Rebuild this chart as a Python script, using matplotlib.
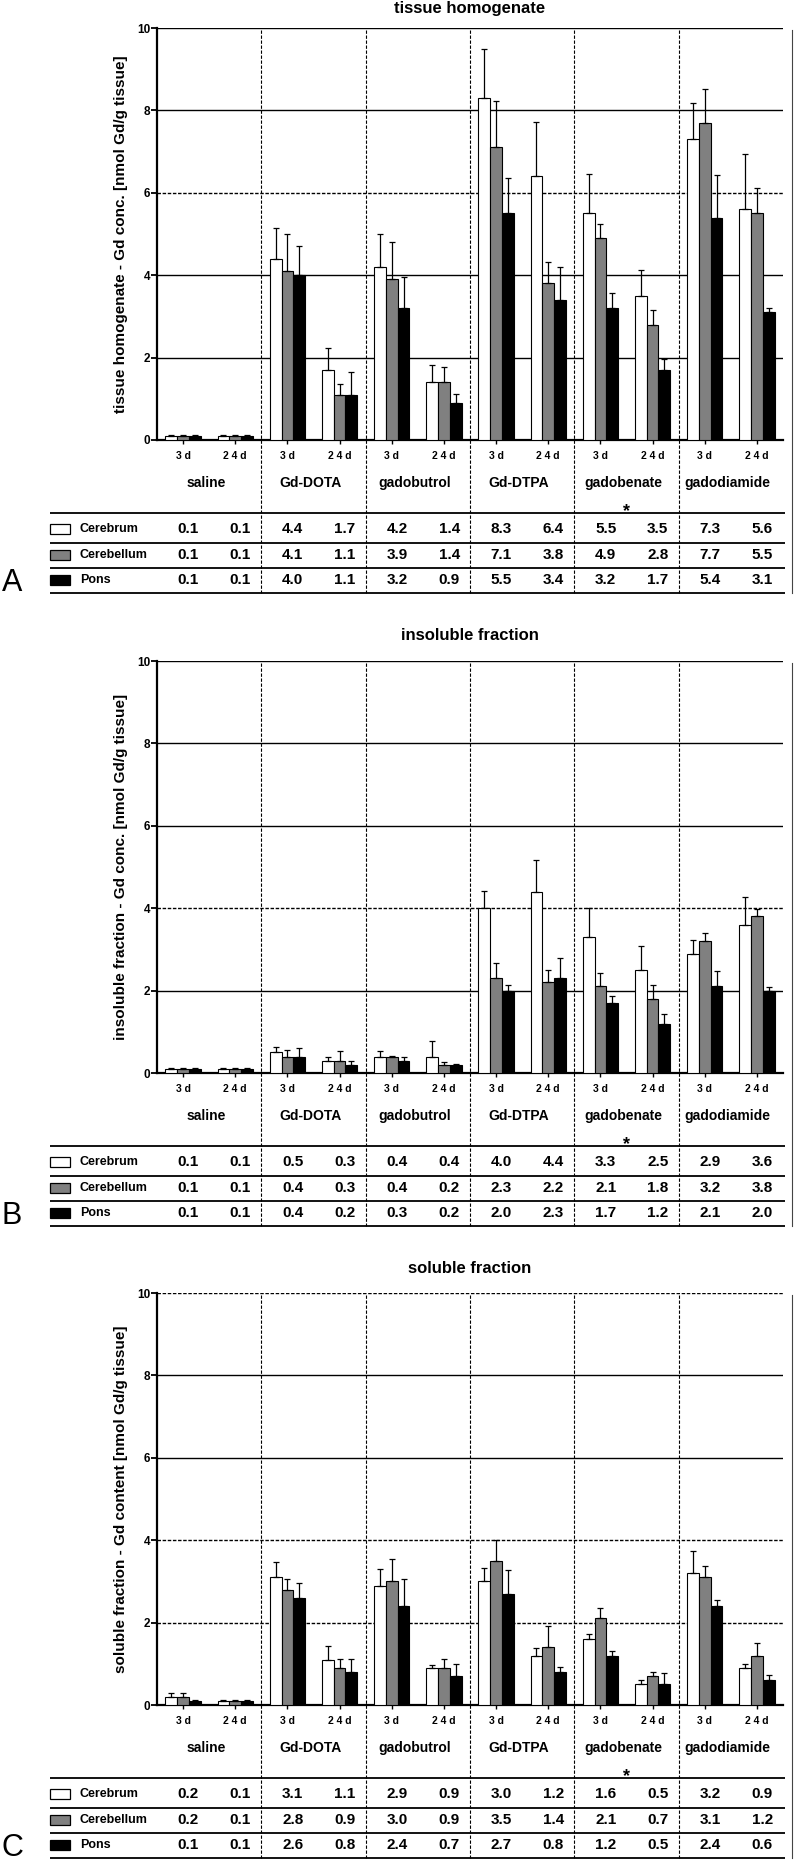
import numpy as np
import matplotlib
matplotlib.use('Agg')
from matplotlib import pyplot as plt
import matplotlib.transforms as mtransforms
from matplotlib.patches import Rectangle

plt.rcParams['font.family'] = ['Liberation Sans', 'DejaVu Sans']
plt.rcParams['font.weight'] = 'bold'

# ---- data ----
groups = ['saline', 'Gd-DOTA', 'gadobutrol', 'Gd-DTPA', 'gadobenate', 'gadodiamide']
times = ['3 d', '2 4 d']
regions = ['Cerebrum', 'Cerebellum', 'Pons']
region_colors = ['white', '#808080', 'black']

# each list: saline 3d, saline 24d, Gd-DOTA 3d, Gd-DOTA 24d, ...
homog_cerebrum = [0.1, 0.1, 4.4, 1.7, 4.2, 1.4, 8.3, 6.4, 5.5, 3.5, 7.3, 5.6]
homog_cerebellum = [0.1, 0.1, 4.1, 1.1, 3.9, 1.4, 7.1, 3.8, 4.9, 2.8, 7.7, 5.5]
homog_pons = [0.1, 0.1, 4.0, 1.1, 3.2, 0.9, 5.5, 3.4, 3.2, 1.7, 5.4, 3.1]
homog_cerebrum_sd = [0.02, 0.01, 0.75, 0.53, 0.8, 0.42, 1.18, 1.31, 0.95, 0.62, 0.88, 1.33]
homog_cerebellum_sd = [0.01, 0.01, 0.9, 0.26, 0.9, 0.38, 1.14, 0.53, 0.34, 0.35, 0.82, 0.62]
homog_pons_sd = [0.03, 0.01, 0.7, 0.55, 0.75, 0.22, 0.85, 0.79, 0.36, 0.27, 1.04, 0.11]

insol_cerebrum = [0.1, 0.1, 0.5, 0.3, 0.4, 0.4, 4.0, 4.4, 3.3, 2.5, 2.9, 3.6]
insol_cerebellum = [0.1, 0.1, 0.4, 0.3, 0.4, 0.2, 2.3, 2.2, 2.1, 1.8, 3.2, 3.8]
insol_pons = [0.1, 0.1, 0.4, 0.2, 0.3, 0.2, 2.0, 2.3, 1.7, 1.2, 2.1, 2.0]
insol_cerebrum_sd = [0.01, 0.01, 0.14, 0.1, 0.14, 0.38, 0.41, 0.77, 0.71, 0.58, 0.34, 0.66]
insol_cerebellum_sd = [0.01, 0.01, 0.15, 0.24, 0.02, 0.07, 0.38, 0.3, 0.32, 0.34, 0.19, 0.17]
insol_pons_sd = [0.01, 0.01, 0.21, 0.08, 0.1, 0.01, 0.14, 0.49, 0.17, 0.23, 0.38, 0.08]

sol_cerebrum = [0.2, 0.1, 3.1, 1.1, 2.9, 0.9, 3.0, 1.2, 1.6, 0.5, 3.2, 0.9]
sol_cerebellum = [0.2, 0.1, 2.8, 0.9, 3.0, 0.9, 3.5, 1.4, 2.1, 0.7, 3.1, 1.2]
sol_pons = [0.1, 0.1, 2.6, 0.8, 2.4, 0.7, 2.7, 0.8, 1.2, 0.5, 2.4, 0.6]
sol_cerebrum_sd = [0.08, 0.01, 0.38, 0.34, 0.4, 0.06, 0.32, 0.18, 0.13, 0.11, 0.54, 0.09]
sol_cerebellum_sd = [0.09, 0.01, 0.25, 0.21, 0.55, 0.22, 0.5, 0.52, 0.26, 0.1, 0.27, 0.31]
sol_pons_sd = [0.03, 0.01, 0.36, 0.31, 0.67, 0.29, 0.57, 0.13, 0.1, 0.28, 0.14, 0.12]

titles = ['tissue homogenate', 'insoluble fraction', 'soluble fraction']
ylabels = ['tissue homogenate - Gd conc. [nmol Gd/g tissue]',
           'insoluble fraction - Gd conc. [nmol Gd/g tissue]',
           'soluble fraction - Gd content [nmol Gd/g tissue]']
letters = ['A', 'B', 'C']
marked_group = 'gadobenate'

# ---- layout (pixels) ----
W, H = 800, 1860
AX_L, AX_R, AX_TOP, AX_BOT = 157, 783, 28, 440
PANEL_OFF = [0, 633, 1265]
TITLE_Y = [9, 636, 1268]
DASH = (0, (2.5, 1.2))
GRID_LS = [['-', '-', DASH, '-', '-'],
           ['-', DASH, '-', '-', '-'],
           [DASH, DASH, '-', '-', DASH]]

fig = plt.figure(figsize=(W / 100, H / 100), dpi=100)
ngroup = len(groups)
px_per_unit = (AX_R - AX_L) / ngroup
centers = np.array([g + c for g in range(ngroup) for c in (0.25, 0.75)])
bw = 0.113


def draw_panel(k, means, sds):
    off = PANEL_OFF[k]
    hpx = AX_BOT - AX_TOP
    ax = fig.add_axes([AX_L / W, 1 - (AX_BOT + off) / H, (AX_R - AX_L) / W, hpx / H])
    ax.patch.set_alpha(0)
    trans = mtransforms.blended_transform_factory(ax.transData, ax.transAxes)

    def ry(d):
        return -d / hpx

    def dx(px):
        return (px - AX_L) / px_per_unit

    for yv, ls in zip([2, 4, 6, 8, 10], GRID_LS[k]):
        ax.axhline(yv, color='black', lw=1.0, ls=ls, zorder=1)

    for i in range(3):
        xs = centers + (i - 1) * bw
        ax.bar(xs, means[i], bw, color=region_colors[i], edgecolor='black', lw=0.8, zorder=3)
        ax.errorbar(xs, means[i], yerr=[np.zeros(len(sds[i])), sds[i]], fmt='none',
                    ecolor='black', elinewidth=0.9, capsize=2.3, capthick=0.9, zorder=4)

    ax.set_xlim(0, ngroup)
    ax.set_ylim(0, 10)
    ax.spines['top'].set_visible(False)
    ax.spines['right'].set_visible(False)
    ax.spines['left'].set_linewidth(1.6)
    ax.spines['bottom'].set_linewidth(1.6)
    ax.set_yticks([0, 2, 4, 6, 8, 10])
    ax.set_yticklabels(['0', '2', '4', '6', '8', '10'], fontsize=8.5, fontweight='bold')
    ax.tick_params(axis='y', direction='out', length=4, width=1.3, pad=1)
    ax.set_xticks(centers)
    ax.set_xticklabels(times * ngroup, fontsize=7.5, fontweight='bold')
    ax.tick_params(axis='x', direction='out', length=3, width=1.0, pad=5)

    ax.set_ylabel(ylabels[k], fontsize=11, fontweight='bold')
    ax.yaxis.set_label_coords((121 - AX_L) / (AX_R - AX_L), 0.5)
    ax.yaxis.label.set_va('center')

    for g, name in enumerate(groups):
        ax.text(g + 0.47, ry(43), name, transform=trans, ha='center', va='center',
                fontsize=10, clip_on=False)
        if name == marked_group:
            ax.text(g + 0.5, ry(72), '*', transform=trans, ha='center', va='center',
                    fontsize=13, clip_on=False)

    # table
    x0, x1 = dx(50), dx(785)
    for d in [73, 103, 128, 153]:
        ax.plot([x0, x1], [ry(d), ry(d)], transform=trans, color='black', lw=1.3,
                clip_on=False, solid_capstyle='butt')
    for g in range(1, ngroup):
        ax.plot([g, g], [(hpx - 2) / hpx, ry(153)], transform=trans, color='black',
                lw=0.8, ls=(0, (3, 1.5)), clip_on=False)
    ax.plot([dx(792), dx(792)], [(hpx - 2) / hpx, ry(153)], transform=trans,
            color='#444444', lw=0.8, clip_on=False)

    for i, d in enumerate([89, 115, 140]):
        ax.add_patch(Rectangle((x0, ry(d) - 5 / hpx), dx(70) - x0, 10 / hpx, transform=trans,
                               facecolor=region_colors[i], edgecolor='black', lw=0.9,
                               clip_on=False))
        ax.text(dx(80), ry(d), regions[i], transform=trans, ha='left', va='center',
                fontsize=9, clip_on=False)
        for j, v in enumerate(means[i]):
            ax.text(centers[j] + 0.05, ry(d), f'{v:.1f}', transform=trans, ha='center',
                    va='center', fontsize=11, clip_on=False)

    fig.text(((AX_L + AX_R) / 2) / W, 1 - TITLE_Y[k] / H, titles[k], ha='center',
             va='center', fontsize=12, fontweight='bold')
    fig.text(12 / W, 1 - (583 + off) / H, letters[k], ha='center', va='center',
             fontsize=22, fontweight='normal')
    return ax


draw_panel(0, [homog_cerebrum, homog_cerebellum, homog_pons],
           [homog_cerebrum_sd, homog_cerebellum_sd, homog_pons_sd])
draw_panel(1, [insol_cerebrum, insol_cerebellum, insol_pons],
           [insol_cerebrum_sd, insol_cerebellum_sd, insol_pons_sd])
draw_panel(2, [sol_cerebrum, sol_cerebellum, sol_pons],
           [sol_cerebrum_sd, sol_cerebellum_sd, sol_pons_sd])

fig.savefig('out.png', dpi=100)
